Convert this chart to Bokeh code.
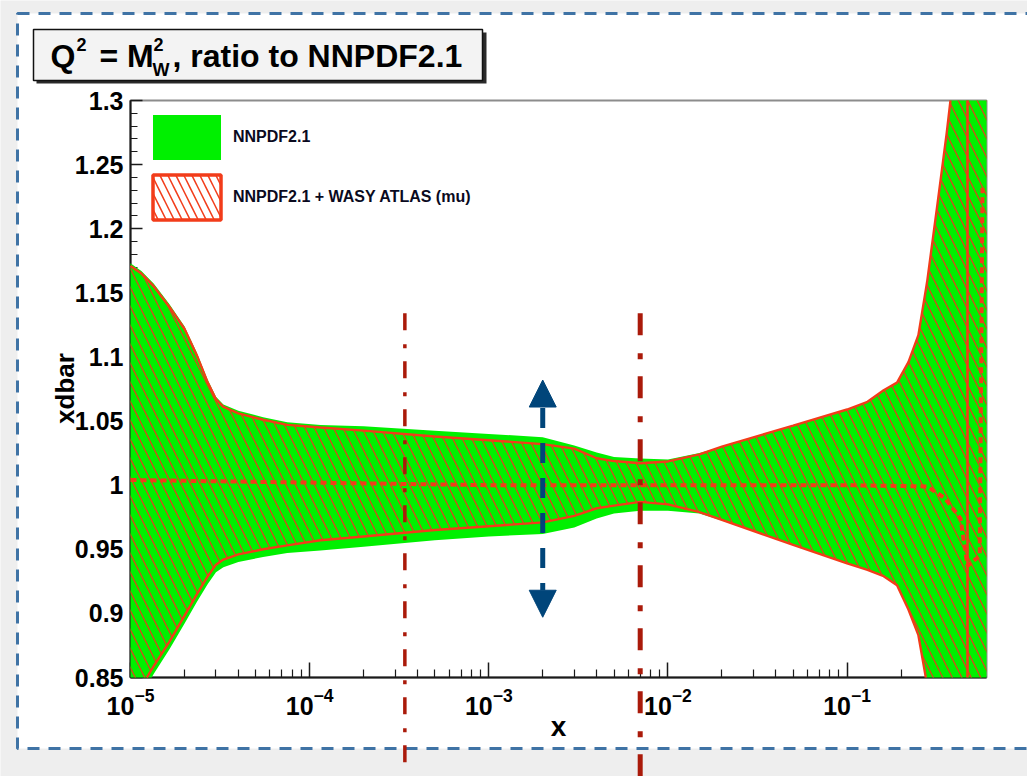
import numpy as np
from bokeh.plotting import figure
from bokeh.models import (Range1d, LogAxis, LinearAxis, FixedTicker, CustomJSTickFormatter,
                          Label, Arrow, NormalHead, Legend, LegendItem)
from bokeh.embed import file_html
from bokeh.resources import INLINE

# ---------------------------------------------------------------- data
x_grid = [1e-5, 1.15e-5, 1.35e-5, 1.65e-5, 2e-5, 2.35e-5, 2.7e-5, 3e-5, 3.3e-5, 4e-5,
          5.5e-5, 7.5e-5, 1.15e-4, 2e-4, 5e-4, 1e-3, 2e-3, 3e-3, 4e-3, 5e-3,
          7e-3, 1e-2, 1.5e-2, 2e-2, 5e-2, 0.1, 0.13, 0.16, 0.19, 0.22,
          0.25, 0.28, 0.32, 0.36, 0.4, 0.5, 0.6]

# NNPDF2.1 uncertainty band (ratio to NNPDF2.1 central value)
nnpdf_up = [1.173, 1.167, 1.157, 1.141, 1.124, 1.103, 1.082, 1.069, 1.063, 1.058,
            1.053, 1.049, 1.047, 1.046, 1.0425, 1.040, 1.0374, 1.031, 1.0255, 1.022,
            1.0207, 1.020, 1.025, 1.030, 1.0465, 1.059, 1.065, 1.074, 1.080, 1.096,
            1.117, 1.159, 1.220, 1.275, 1.330, 1.600, 2.000]
nnpdf_lo = [0.815, 0.836, 0.853, 0.872, 0.892, 0.909, 0.923, 0.932, 0.936, 0.940,
            0.944, 0.947, 0.949, 0.952, 0.957, 0.960, 0.962, 0.967, 0.974, 0.978,
            0.980, 0.980, 0.978, 0.9725, 0.9535, 0.939, 0.934, 0.929, 0.922, 0.903,
            0.883, 0.844, 0.800, 0.750, 0.700, 0.550, 0.400]

# NNPDF2.1 reweighted with the W asymmetry (ATLAS, muon channel)
rw_up = [1.171, 1.165, 1.155, 1.139, 1.122, 1.101, 1.080, 1.067, 1.061, 1.056,
         1.051, 1.047, 1.045, 1.0425, 1.038, 1.035, 1.032, 1.0285, 1.021, 1.0188,
         1.0171, 1.0185, 1.024, 1.030, 1.0465, 1.059, 1.065, 1.074, 1.080, 1.096,
         1.117, 1.159, 1.220, 1.275, 1.330, 1.600, 2.000]
rw_lo = [0.821, 0.843, 0.859, 0.878, 0.898, 0.915, 0.929, 0.938, 0.942, 0.946,
         0.950, 0.953, 0.957, 0.960, 0.965, 0.968, 0.971, 0.976, 0.982, 0.984,
         0.987, 0.985, 0.979, 0.9729, 0.9535, 0.939, 0.934, 0.929, 0.922, 0.903,
         0.883, 0.844, 0.800, 0.750, 0.700, 0.550, 0.400]

# reweighted central value
cv_x = [1e-5, 1e-4, 1e-3, 0.1, 0.28, 0.35, 0.43, 0.47, 0.55, 0.57]
cv_ratio = [1.004, 1.002, 1.0, 1.0, 0.999, 0.990, 0.974, 0.937, 0.945, 1.232]

x_rw_edge = 0.47                 # edge of the reweighted band
kin_cuts = [3.4e-4, 7.0e-3]      # x range probed by the data
kin_cut_top = 1.134
arrow_x = 2.0e-3
arrow_span = [0.897, 1.082]

x_major_ticks = [1e-5, 1e-4, 1e-3, 1e-2, 1e-1]
x_minor_ticks = [m * 10.0 ** k for k in range(-5, -1) for m in range(2, 10)] + [0.2, 0.3, 0.4, 0.5]
y_major_ticks = [0.85, 0.9, 0.95, 1.0, 1.05, 1.1, 1.15, 1.2, 1.25, 1.3]
y_minor_ticks = [round(0.85 + 0.01 * i, 2) for i in range(46)]

# ---------------------------------------------------------------- layout
W, H = 1027, 776
X_MIN, X_MAX, Y_MIN, Y_MAX = 1e-5, 0.6, 0.85, 1.3
PL, PR, PT, PB = 130, 986, 100, 677          # pad edges in pixels

dec_px = (PR - PL) / (np.log10(X_MAX) - np.log10(X_MIN))
unit_px = (PB - PT) / (Y_MAX - Y_MIN)


def px2x(px):
    return 10 ** (np.log10(X_MIN) + (px - PL) / dec_px)


def px2y(py):
    return Y_MAX + (PT - py) / unit_px


GREEN = "#00f000"
RED = "#f23c1a"
HATCH = "#d8461a"
DARKRED = "#aa1a0a"
BLUE = "#00457a"
PAGE = "#eeeeee"
FONT = "Liberation Sans"


def clip_band(x, lo, hi):
    """Add the points where either curve crosses the pad's y limits."""
    lx = np.log10(np.asarray(x, dtype=float))
    extra = []
    for curve in (np.asarray(lo, float), np.asarray(hi, float)):
        for i in range(len(curve) - 1):
            for lvl in (Y_MIN, Y_MAX):
                a, b = curve[i] - lvl, curve[i + 1] - lvl
                if a * b < 0:
                    t = a / (a - b)
                    extra.append(lx[i] + t * (lx[i + 1] - lx[i]))
    lxs = np.unique(np.concatenate([lx, np.array(extra)]))
    return 10 ** lxs, np.interp(lxs, lx, lo), np.interp(lxs, lx, hi)


def visible(v):
    v = np.asarray(v, float)
    return np.where((v >= Y_MIN - 1e-9) & (v <= Y_MAX + 1e-9), v, np.nan)


def text(tx, ty, s, fs, **kw):
    """Bold label whose alphabetic baseline sits at pixel row ty."""
    opts = dict(text_font=FONT, text_font_style="bold", text_font_size=f"{fs}px",
                text_align="left", text_baseline="middle", text_color="black")
    opts.update(kw)
    p.add_layout(Label(x=px2x(tx), y=px2y(ty - 0.33 * fs), text=s, **opts))


p = figure(width=W, height=H, x_axis_type="log",
           x_range=Range1d(px2x(0), px2x(W)), y_range=Range1d(px2y(H), px2y(0)),
           x_axis_location=None, y_axis_location=None, toolbar_location=None,
           output_backend="svg", min_border=0, title=None)
p.background_fill_color = PAGE
p.border_fill_color = PAGE
p.outline_line_color = None
p.xgrid.visible = False
p.ygrid.visible = False

# page with dashed border
p.quad(left=[px2x(17)], right=[px2x(W + 30)], top=[px2y(13)], bottom=[px2y(748)],
       fill_color="white", line_color="#3f73a5", line_width=3, line_dash="12 9", level="image")

# title box with shadow
p.quad(left=[px2x(36)], right=[px2x(486)], top=[px2y(32)], bottom=[px2y(83)],
       fill_color="#2a2a2a", line_color=None, level="image")
p.quad(left=[px2x(33)], right=[px2x(482)], top=[px2y(29)], bottom=[px2y(80)],
       fill_color="#f3f3f3", line_color="#111111", line_width=1.5, level="image")

# pad frame
p.quad(left=[X_MIN], right=[X_MAX], bottom=[Y_MIN], top=[Y_MAX], fill_color=None,
       line_color="#8c8c8c", line_width=2, level="image")

for s, tx, ty, fs in [("Q", 50, 66, 32), ("2", 76, 50, 18), ("= M", 99, 66, 32),
                      ("2", 153, 50, 18), ("W", 152, 75, 18), (", ratio to NNPDF2.1", 172, 66, 32)]:
    text(tx, ty, s, fs)

# axes (drawn beneath the bands)
xaxis = LogAxis(fixed_location=Y_MIN, bounds=(X_MIN, X_MAX),
                ticker=FixedTicker(ticks=x_major_ticks, minor_ticks=x_minor_ticks), level="underlay")
yaxis = LinearAxis(fixed_location=X_MIN, bounds=(Y_MIN, Y_MAX),
                   ticker=FixedTicker(ticks=y_major_ticks, minor_ticks=y_minor_ticks),
                   formatter=CustomJSTickFormatter(code="return tick.toFixed(2).replace(/\\.?0+$/, '');"),
                   level="underlay")
for ax, tin, mtin, standoff in ((xaxis, 15, 8, 10), (yaxis, 12, 7, 7)):
    ax.axis_line_color = "#1a1a1a"
    ax.axis_line_width = 2
    ax.major_tick_line_color = "#1a1a1a"
    ax.minor_tick_line_color = "#1a1a1a"
    ax.major_tick_line_width = 1.5
    ax.minor_tick_line_width = 1.2
    ax.major_tick_in = tin
    ax.major_tick_out = 0
    ax.minor_tick_in = mtin
    ax.minor_tick_out = 0
    ax.major_label_text_font = FONT
    ax.major_label_text_font_style = "bold"
    ax.major_label_text_font_size = "25px"
    ax.major_label_text_color = "black"
    ax.major_label_standoff = standoff
p.add_layout(xaxis, "below")
p.add_layout(yaxis, "left")

text((PL + PR) / 2, 735, "x", 28, text_align="center")
p.add_layout(Label(x=px2x(64), y=px2y(388), text="xdbar", angle=np.pi / 2, text_font=FONT,
                   text_font_style="bold", text_font_size="26px", text_align="center",
                   text_baseline="middle", text_color="black"))

# bands
gx, glo, ghi = clip_band(x_grid, nnpdf_lo, nnpdf_up)
green = p.varea(x=gx, y1=np.clip(glo, Y_MIN, Y_MAX), y2=np.clip(ghi, Y_MIN, Y_MAX),
                fill_color=GREEN)
rx, rlo, rhi = clip_band(x_grid, rw_lo, rw_up)
p.varea(x=rx, y1=np.clip(rlo, Y_MIN, Y_MAX), y2=np.clip(rhi, Y_MIN, Y_MAX),
        fill_color=None, hatch_pattern="left_diagonal_line", hatch_color=HATCH,
        hatch_scale=19, hatch_weight=1.3)
p.line(rx, visible(rhi), line_color=RED, line_width=2.4)
p.line(rx, visible(rlo), line_color=RED, line_width=2.4)
p.segment(x0=[x_rw_edge], y0=[Y_MIN], x1=[x_rw_edge], y1=[Y_MAX], line_color=RED, line_width=2.6)
p.line(cv_x, cv_ratio, line_color=RED, line_width=4, line_dash="6 4")

# legend swatch for the reweighted band (not drawn in the pad itself)
rw_swatch = p.quad(left=[X_MIN], right=[X_MAX], top=[Y_MAX], bottom=[Y_MIN], fill_color="white",
                   hatch_pattern="left_diagonal_line", hatch_color=RED, hatch_scale=16,
                   hatch_weight=1.5, line_color=RED, line_width=3.5, visible=False)

# x range probed by the data
p.segment(x0=[kin_cuts[0]], y0=[kin_cut_top], x1=[kin_cuts[0]], y1=[px2y(H + 5)],
          line_color=DARKRED, line_width=3.5, line_dash="17 14 4 13")
p.segment(x0=[kin_cuts[1]], y0=[kin_cut_top], x1=[kin_cuts[1]], y1=[px2y(H + 5)],
          line_color=DARKRED, line_width=5, line_dash="22 18 6 17")

p.add_layout(Arrow(start=NormalHead(size=27, fill_color=BLUE, line_color=BLUE),
                   end=NormalHead(size=27, fill_color=BLUE, line_color=BLUE),
                   x_start=arrow_x, y_start=arrow_span[1], x_end=arrow_x, y_end=arrow_span[0],
                   line_color=BLUE, line_width=5, line_dash="20 15", line_dash_offset=7))

legend = Legend(items=[LegendItem(label="NNPDF2.1", renderers=[green]),
                       LegendItem(label="NNPDF2.1 + WASY ATLAS (mu)", renderers=[rw_swatch])],
                location=(144, H - 225), orientation="vertical", glyph_width=85, glyph_height=56,
                label_standoff=4, spacing=4, padding=0, margin=0, border_line_color=None,
                background_fill_alpha=0, label_text_font=FONT, label_text_font_style="bold",
                label_text_font_size="16px", label_text_color="#0a0a1e")
p.add_layout(legend)

open("out.html", "w").write(file_html(p, INLINE))
